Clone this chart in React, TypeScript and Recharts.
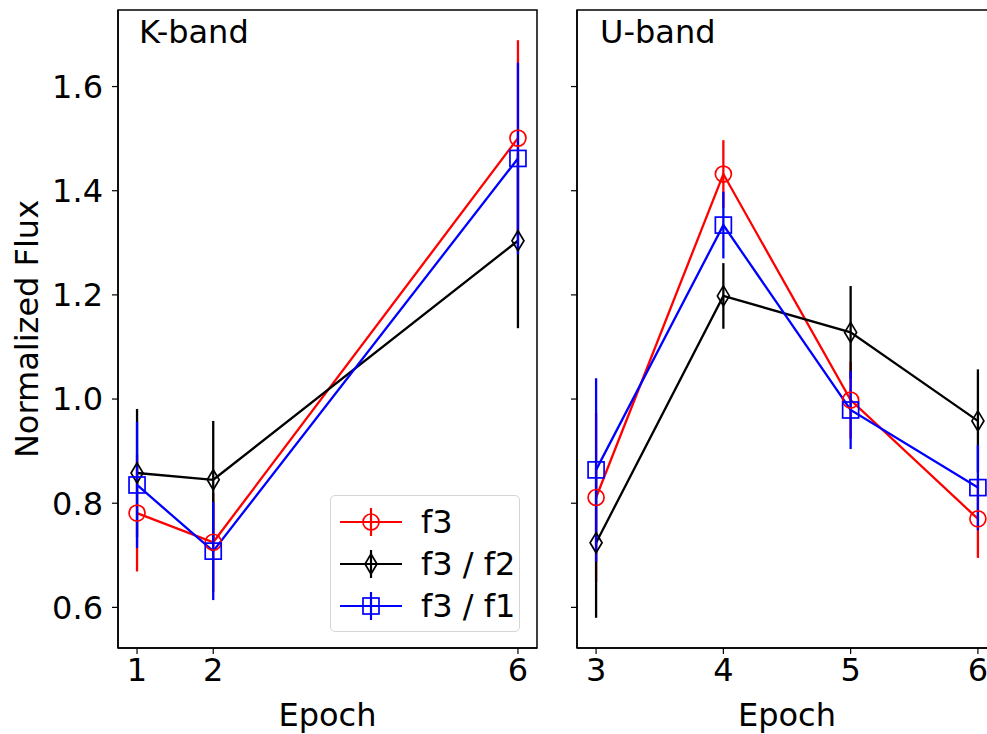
import React from "react";
import {
  LineChart,
  Line,
  XAxis,
  YAxis,
  ErrorBar,
  ReferenceArea,
  Legend,
} from "recharts";

// K-band panel
const kEpochs = [1, 2, 6];
const kF3 = [0.781, 0.725, 1.501];
const kF3Err = [0.112, 0.095, 0.188];
const kF3F2 = [0.858, 0.845, 1.304];
const kF3F2Err = [0.123, 0.113, 0.168];
const kF3F1 = [0.835, 0.708, 1.462];
const kF3F1Err = [0.121, 0.094, 0.184];

// U-band panel
const uEpochs = [3, 4, 5, 6];
const uF3 = [0.811, 1.432, 0.998, 0.77];
const uF3Err = [0.162, 0.065, 0.074, 0.075];
const uF3F2 = [0.724, 1.198, 1.128, 0.958];
const uF3F2Err = [0.144, 0.063, 0.089, 0.099];
const uF3F1 = [0.864, 1.334, 0.979, 0.83];
const uF3F1Err = [0.176, 0.064, 0.075, 0.082];

const yTicks = [0.6, 0.8, 1.0, 1.2, 1.4, 1.6];
const yDomain: [number, number] = [0.522, 1.747];

const FONT = "'DejaVu Sans', sans-serif";

type Marker = "circle" | "diamond" | "square";

const series: { key: string; name: string; color: string; marker: Marker }[] = [
  { key: "f3", name: "f3", color: "#ff0000", marker: "circle" },
  { key: "f3f2", name: "f3 / f2", color: "#000000", marker: "diamond" },
  { key: "f3f1", name: "f3 / f1", color: "#0000ff", marker: "square" },
];

function buildRows(
  epochs: number[],
  a: number[], ae: number[],
  b: number[], be: number[],
  c: number[], ce: number[]
) {
  return epochs.map((epoch, i) => ({
    epoch,
    f3: a[i], f3Err: ae[i],
    f3f2: b[i], f3f2Err: be[i],
    f3f1: c[i], f3f1Err: ce[i],
  }));
}

const kData = buildRows(kEpochs, kF3, kF3Err, kF3F2, kF3F2Err, kF3F1, kF3F1Err);
const uData = buildRows(uEpochs, uF3, uF3Err, uF3F2, uF3F2Err, uF3F1, uF3F1Err);

function markerShape(marker: Marker, color: string, cx: number, cy: number, key?: string) {
  if (marker === "circle") {
    return <circle key={key} cx={cx} cy={cy} r={8} fill="none" stroke={color} strokeWidth={1.7} />;
  }
  if (marker === "square") {
    return <rect key={key} x={cx - 8} y={cy - 8} width={16} height={16} fill="none" stroke={color} strokeWidth={1.7} />;
  }
  return (
    <path
      key={key}
      d={`M${cx},${cy - 10}L${cx + 6},${cy}L${cx},${cy + 10}L${cx - 6},${cy}Z`}
      fill="none"
      stroke={color}
      strokeWidth={1.7}
    />
  );
}

function LegendBox() {
  return (
    <div
      style={{
        width: 190,
        height: 137,
        border: "1.5px solid #d5d5d5",
        borderRadius: 5,
        background: "rgba(255,255,255,0.8)",
        boxSizing: "border-box",
      }}
    >
      <svg width={190} height={137} style={{ display: "block" }}>
        {series.map((s, i) => {
          const cy = 26 + i * 42;
          return (
            <g key={s.key}>
              <line x1={9} x2={71} y1={cy} y2={cy} stroke={s.color} strokeWidth={2.2} />
              <line x1={40} x2={40} y1={cy - 14} y2={cy + 14} stroke={s.color} strokeWidth={2.2} />
              {markerShape(s.marker, s.color, 40, cy)}
              <text x={90} y={cy + 11} fontSize={32} fontFamily={FONT} fill="#000">
                {s.name}
              </text>
            </g>
          );
        })}
      </svg>
    </div>
  );
}

interface PanelProps {
  data: ReturnType<typeof buildRows>;
  xDomain: [number, number];
  xTicks: number[];
  title: string;
  left: number;
  width: number;
  yAxisWidth: number;
  marginRight: number;
  showYLabels: boolean;
  titleX: number;
  withLegend?: boolean;
}

function Panel(p: PanelProps) {
  const tickStyle = { fill: "#000", fontSize: 32, fontFamily: FONT };
  return (
    <div style={{ position: "absolute", left: p.left, top: 0, width: p.width, height: 734 }}>
      <LineChart
        width={p.width}
        height={734}
        data={p.data}
        margin={{ top: 10, right: p.marginRight, bottom: 0, left: 0 }}
      >
        <XAxis
          type="number"
          dataKey="epoch"
          domain={p.xDomain}
          ticks={p.xTicks}
          interval={0}
          allowDataOverflow
          height={86}
          tickSize={6}
          tickMargin={4}
          tick={tickStyle}
          axisLine={{ stroke: "#000", strokeWidth: 1.5 }}
          tickLine={{ stroke: "#000", strokeWidth: 1.2 }}
          label={{
            value: "Epoch",
            position: "insideBottom",
            offset: 8,
            fill: "#000",
            fontSize: 32,
            fontFamily: FONT,
          }}
        />
        <YAxis
          type="number"
          domain={yDomain}
          ticks={yTicks}
          interval={0}
          allowDataOverflow
          width={p.yAxisWidth}
          tickSize={6}
          tickMargin={9}
          tick={tickStyle}
          tickFormatter={(v: number) => (p.showYLabels ? v.toFixed(1) : "")}
          axisLine={{ stroke: "#000", strokeWidth: 1.5 }}
          tickLine={{ stroke: "#000", strokeWidth: 1.2 }}
          label={
            p.showYLabels
              ? {
                  content: () => (
                    <text
                      x={0}
                      y={0}
                      transform="translate(38,329) rotate(-90)"
                      textAnchor="middle"
                      fontSize={32}
                      fontFamily={FONT}
                      fill="#000"
                    >
                      Normalized Flux
                    </text>
                  ),
                }
              : undefined
          }
        />
        <ReferenceArea
          x1={p.xDomain[0]}
          x2={p.xDomain[1]}
          y1={yDomain[0]}
          y2={yDomain[1]}
          fill="none"
          fillOpacity={0}
          stroke="#000"
          strokeWidth={1.5}
        />
        {series.map((s) => (
          <Line
            key={s.key}
            type="linear"
            dataKey={s.key}
            name={s.name}
            stroke={s.color}
            strokeWidth={2.3}
            isAnimationActive={false}
            activeDot={false}
            dot={(props: any) => markerShape(s.marker, s.color, props.cx, props.cy, `${s.key}-${props.index}`)}
          >
            <ErrorBar
              dataKey={`${s.key}Err`}
              direction="y"
              width={0}
              stroke={s.color}
              strokeWidth={2.3}
              isAnimationActive={false}
            />
          </Line>
        ))}
        {p.withLegend && (
          <Legend
            layout="vertical"
            align="center"
            verticalAlign="middle"
            wrapperStyle={{ left: 330, top: 495, width: 190, height: 137 }}
            content={() => <LegendBox />}
          />
        )}
      </LineChart>
      <div
        style={{
          position: "absolute",
          left: p.titleX,
          top: 16,
          fontSize: 32,
          lineHeight: "32px",
          fontFamily: FONT,
          color: "#000",
          whiteSpace: "nowrap",
        }}
      >
        {p.title}
      </div>
    </div>
  );
}

export default function App() {
  return (
    <div
      style={{
        position: "absolute",
        left: 0,
        top: 0,
        width: 987,
        height: 734,
        overflow: "hidden",
        background: "#fff",
        fontFamily: FONT,
      }}
    >
      <Panel
        data={kData}
        xDomain={[0.75, 6.25]}
        xTicks={kEpochs}
        title="K-band"
        left={0}
        width={560}
        yAxisWidth={118}
        marginRight={23}
        showYLabels
        titleX={139}
        withLegend
      />
      <Panel
        data={uData}
        xDomain={[2.85, 6.15]}
        xTicks={uEpochs}
        title="U-band"
        left={540}
        width={470}
        yAxisWidth={37}
        marginRight={13}
        showYLabels={false}
        titleX={60}
      />
    </div>
  );
}
